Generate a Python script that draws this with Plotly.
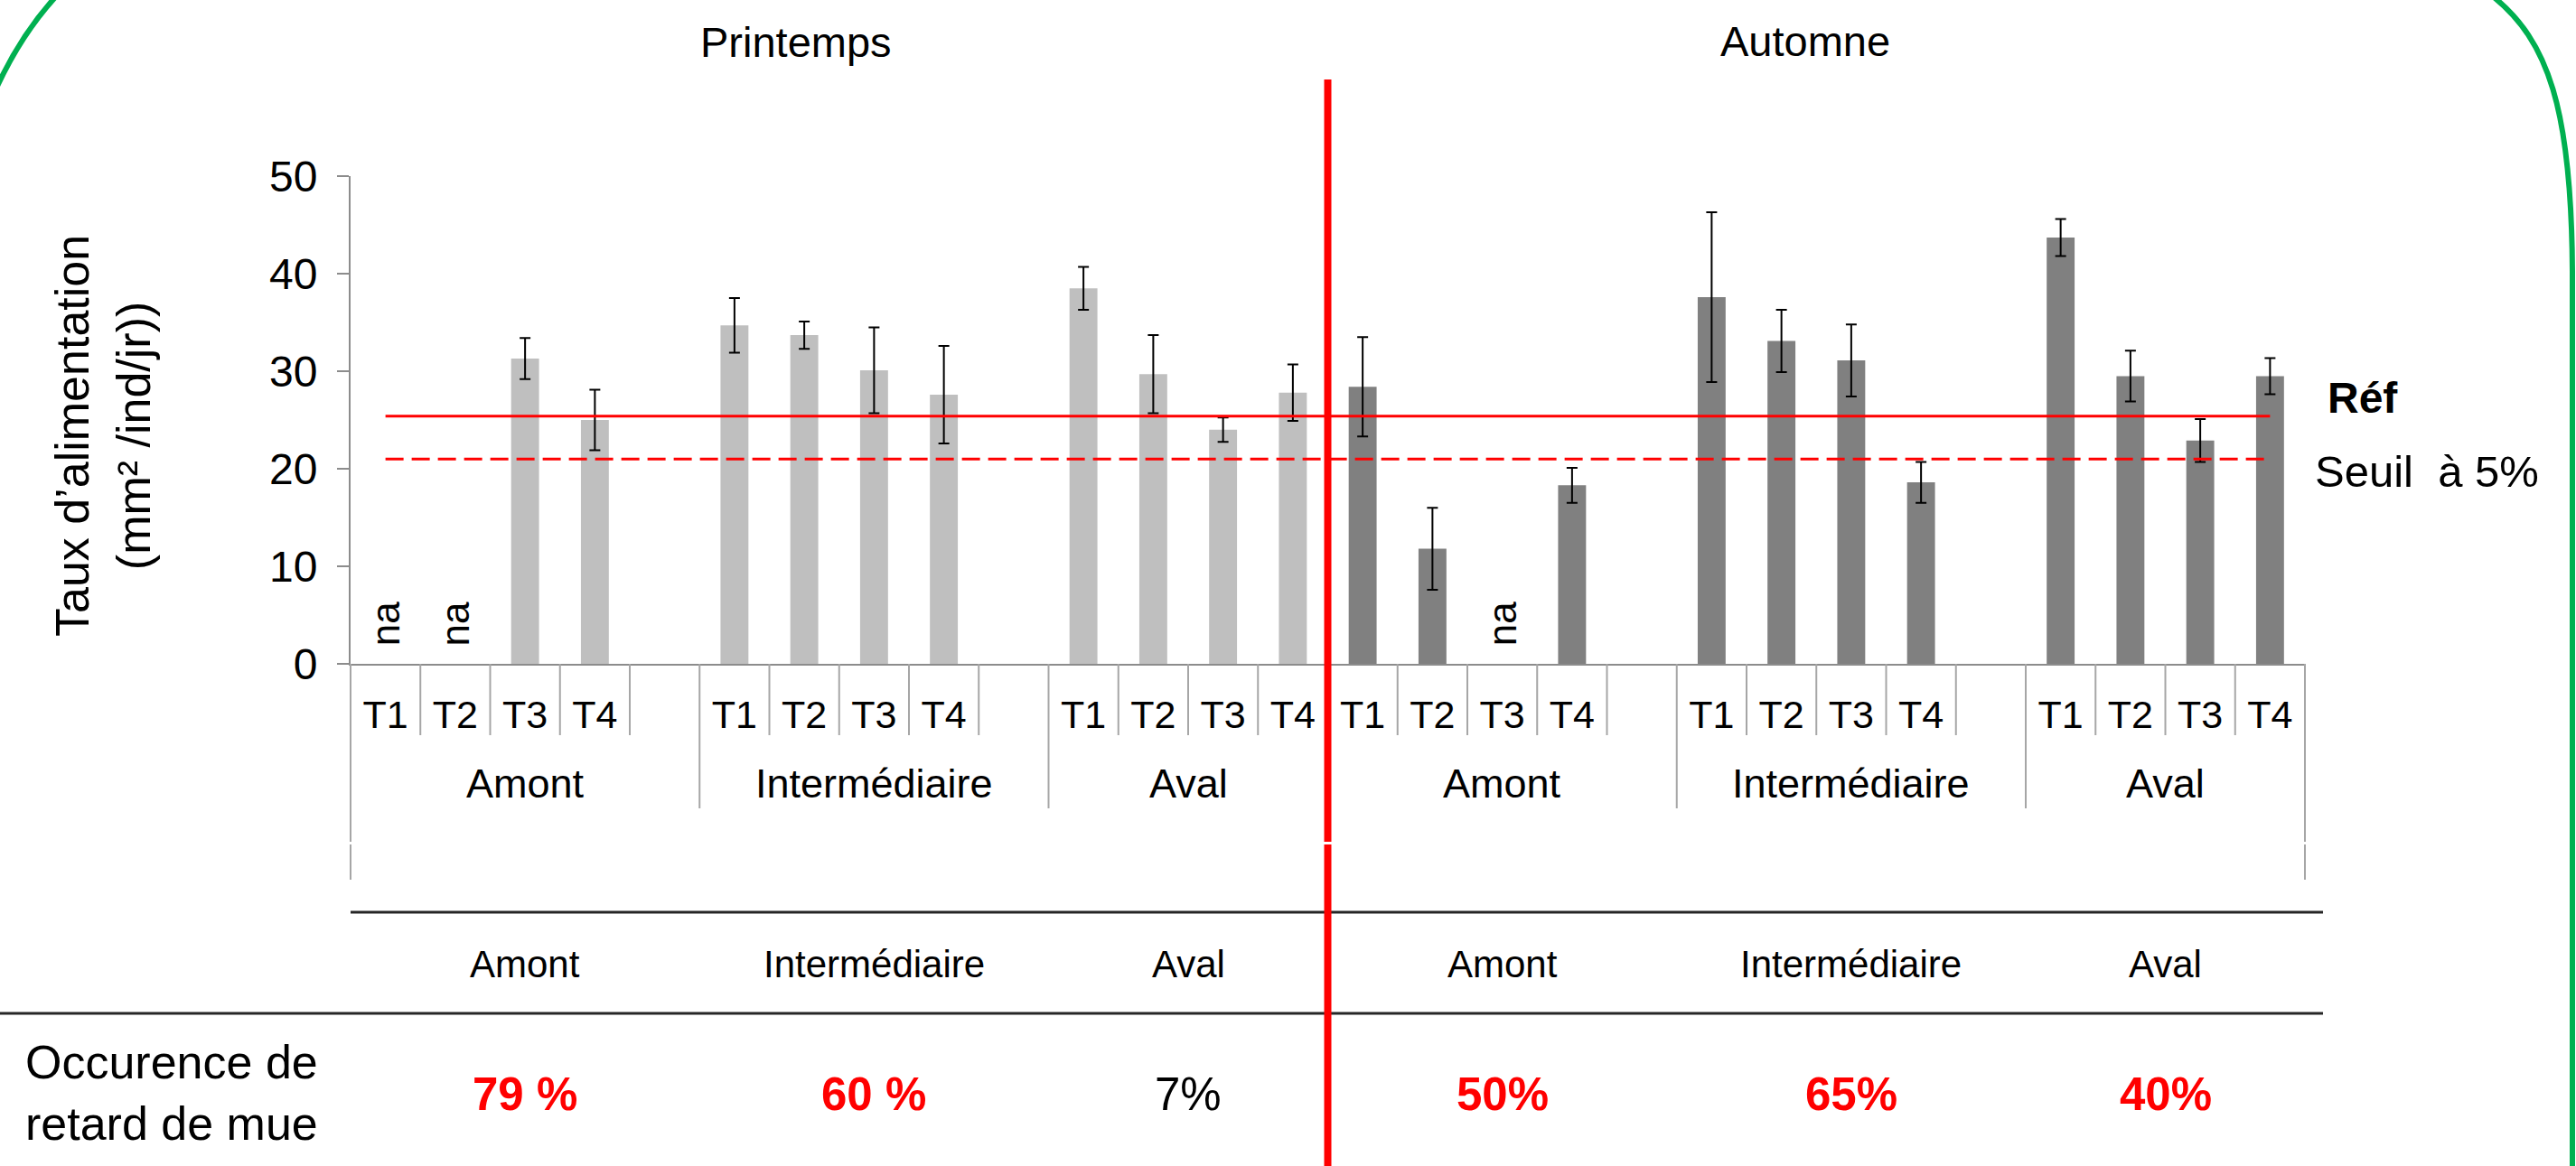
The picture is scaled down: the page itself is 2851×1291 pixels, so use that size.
import plotly.graph_objects as go

# ---------------------------------------------------------------- data
seasons = ["Printemps", "Automne"]
sites = ["Amont", "Intermédiaire", "Aval"]
treatments = ["T1", "T2", "T3", "T4"]

# feeding rate (mm²/ind/day) per site x treatment; None = not available (na)
printemps_rate = [None, None, 31.3, 25.0, 34.7, 33.7, 30.1, 27.6, 38.5, 29.7, 24.0, 27.8]
printemps_se = [None, None, 2.1, 3.1, 2.8, 1.4, 4.4, 5.0, 2.2, 4.0, 1.25, 2.9]
automne_rate = [28.4, 11.8, None, 18.3, 37.6, 33.1, 31.1, 18.6, 43.7, 29.5, 22.9, 29.5]
automne_se = [5.1, 4.2, None, 1.8, 8.7, 3.2, 3.7, 2.1, 1.9, 2.6, 2.2, 1.85]

ref_level = 25.4      # reference feeding rate
seuil_level = 21.0    # 5 % threshold

occurrence = ["79 %", "60 %", "7%", "50%", "65%", "40%"]
occurrence_flag = [True, True, False, True, True, True]

y_ticks = [0, 10, 20, 30, 40, 50]

# ---------------------------------------------------------------- layout helpers
W, H = 2851, 1291
ML, MR, MT, MB = 388, 300, 195, 556
PW, PH = W - ML - MR, H - MT - MB
SITE_STEP, SEASON_STEP, N_SLOTS = 5, 14, 28
X_MIN, X_MAX = -0.5, N_SLOTS - 0.5


def slot(season, site, treat):
    return season * SEASON_STEP + site * SITE_STEP + treat


def px_x(p):
    return (p - ML) / PW


def px_y(p):
    return (MT + PH - p) / PH


def dx(x):
    return (x - X_MIN) / (X_MAX - X_MIN)


series = [(printemps_rate, printemps_se, "#BFBFBF"),
          (automne_rate, automne_se, "#808080")]

fig = go.Figure()

tick_pos, tick_txt = [], []
na_slots = []
for s, (rate, se, colour) in enumerate(series):
    xs = []
    for k in range(len(sites)):
        for t in range(len(treatments)):
            xs.append(slot(s, k, t))
            tick_pos.append(slot(s, k, t))
            tick_txt.append(treatments[t])
    na_slots += [x for x, v in zip(xs, rate) if v is None]
    fig.add_trace(go.Bar(
        x=xs, y=rate, width=0.4,
        marker=dict(color=colour, line=dict(width=0)),
        error_y=dict(type="data", array=se, color="black", thickness=2, width=6),
        hoverinfo="skip",
    ))

first_slot, last_slot = slot(0, 0, 0), slot(1, 2, 3)
fig.add_trace(go.Scatter(x=[first_slot, last_slot], y=[ref_level, ref_level],
                         mode="lines", line=dict(color="#FF0000", width=3), hoverinfo="skip"))
fig.add_trace(go.Scatter(x=[first_slot, last_slot], y=[seuil_level, seuil_level],
                         mode="lines", line=dict(color="#FF0000", width=3, dash="20px,9px"),
                         hoverinfo="skip"))

FONT = "Liberation Sans, Arial, sans-serif"
ann = []


def label(x, y, text, size, xref="paper", yref="paper", xanchor="center",
          yanchor="middle", color="black", **kw):
    ann.append(dict(x=x, y=y, xref=xref, yref=yref, text=text, showarrow=False,
                    xanchor=xanchor, yanchor=yanchor,
                    font=dict(size=size, color=color), **kw))


# "na" markers for missing values
for x in na_slots:
    label(x, 0, "na", 44, xref="x", yref="y", yanchor="bottom", textangle=-90, yshift=18)

# site group centres
group_centres = []
for s in range(len(seasons)):
    for k in range(len(sites)):
        lo = slot(s, k, 0) - 0.5
        hi = lo + (SITE_STEP if k < len(sites) - 1 else len(treatments))
        group_centres.append(((lo + hi) / 2, sites[k]))

for cx, name in group_centres:
    label(cx, px_y(867), name, 45, xref="x")
    label(cx, px_y(1067), name, 42, xref="x")

for (cx, _), txt, flag in zip(group_centres, occurrence, occurrence_flag):
    label(cx, px_y(1211), f"<b>{txt}</b>" if flag else txt, 51, xref="x",
          color="#FF0000" if flag else "black")

# season headers
label(px_x(881), px_y(47), seasons[0], 47)
label(px_x(1998), px_y(45), seasons[1], 47)

# reference line labels
label(px_x(2574), px_y(440), "<b>Réf</b>", 48, xanchor="left")
label(px_x(2560), px_y(522), "Seuil\u00a0 à 5%", 49, xanchor="left")

# y-axis title
label(px_x(114), px_y(483), "Taux d’alimentation<br>(mm² /ind/jr))", 52, textangle=-90)

# row header of the table
label(px_x(26), px_y(1210), "Occurence de<br>retard de mue", 52, xanchor="left",
      align="left")

# ---------------------------------------------------------------- shapes
GREY = "#A6A6A6"
shapes = []
boundaries = [b - 0.5 for b in range(N_SLOTS + 1)]
group_bounds = [slot(s, k, 0) - 0.5 for s in range(2) for k in range(3)] + [X_MAX]
for b in boundaries:
    if b in (X_MIN, X_MAX):
        y_end = px_y(974)
    elif b in group_bounds:
        y_end = px_y(895)
    else:
        y_end = px_y(814)
    shapes.append(dict(type="line", xref="paper", yref="paper", x0=dx(b), x1=dx(b),
                       y0=0, y1=y_end, line=dict(color=GREY, width=2)))

# table rules
shapes.append(dict(type="line", xref="paper", yref="paper", x0=0, x1=px_x(2571),
                   y0=px_y(1010), y1=px_y(1010), line=dict(color="#262626", width=3)))
shapes.append(dict(type="line", xref="paper", yref="paper", x0=px_x(0), x1=px_x(2571),
                   y0=px_y(1122), y1=px_y(1122), line=dict(color="#262626", width=3)))

# season divider
season_split = dx(SEASON_STEP - 0.5)
shapes.append(dict(type="line", xref="paper", yref="paper", x0=season_split, x1=season_split,
                   y0=px_y(88), y1=px_y(1300), line=dict(color="#FF0000", width=8)))

# thin white break across the lower frame
shapes.append(dict(type="line", xref="paper", yref="paper", x0=px_x(370), x1=px_x(2580),
                   y0=px_y(933.5), y1=px_y(933.5), line=dict(color="white", width=3)))


def path(points):
    out = []
    for cmd, pts in points:
        out.append(cmd + " " + " ".join(f"{px_x(a):.5f},{px_y(b):.5f}" for a, b in pts))
    return " ".join(out)


# green frame corners
shapes.append(dict(type="path", xref="paper", yref="paper",
                   path=path([("M", [(62, -4)]), ("C", [(40, 20), (15, 55), (-6, 102)])]),
                   line=dict(color="#00B050", width=6)))
shapes.append(dict(type="path", xref="paper", yref="paper",
                   path=path([("M", [(2759, -4)]), ("C", [(2820, 45), (2846, 120), (2847, 300)]),
                              ("L", [(2847, 1300)])]),
                   line=dict(color="#00B050", width=6)))

fig.update_layout(
    width=W, height=H,
    margin=dict(l=ML, r=MR, t=MT, b=MB, pad=0),
    paper_bgcolor="white", plot_bgcolor="white",
    showlegend=False, barmode="overlay",
    font=dict(family=FONT, color="black"),
    annotations=ann, shapes=shapes,
    xaxis=dict(range=[X_MIN, X_MAX], showgrid=False, zeroline=False,
               showline=True, linecolor="#8C8C8C", linewidth=2,
               tickmode="array", tickvals=tick_pos, ticktext=tick_txt,
               ticks="", tickfont=dict(size=43, color="black"),
               ticklabelstandoff=17, fixedrange=True),
    yaxis=dict(range=[0, 50], showgrid=False, zeroline=False,
               showline=True, linecolor="#8C8C8C", linewidth=2,
               tickmode="array", tickvals=y_ticks,
               ticks="outside", ticklen=13, tickwidth=2, tickcolor="#8C8C8C",
               tickfont=dict(size=48, color="black"), ticklabelstandoff=12,
               fixedrange=True),
)

fig.write_html("out.html")
